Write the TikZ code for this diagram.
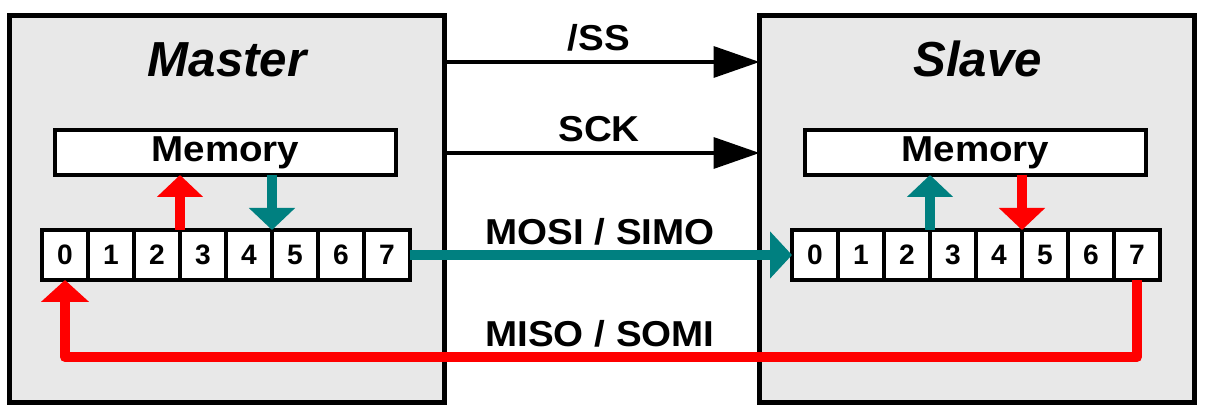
\documentclass[tikz,border=0pt]{standalone}
\usepackage{fontspec}
\setmainfont{Liberation Sans}
\newfontfamily\widefont{Liberation Sans}[FakeStretch=1.07]
\usetikzlibrary{arrows.meta,positioning}
\definecolor{boxgray}{HTML}{E8E8E8}
\definecolor{spiteal}{HTML}{008080}
\definecolor{spired}{HTML}{FF0000}
\tikzset{
    unit/.style={draw, line width=2.85pt, fill=boxgray, minimum width=8.7cm, minimum height=7.74cm, inner sep=0pt, outer sep=0pt},
    memory/.style={draw, line width=2.3pt, fill=white, minimum width=6.82cm, minimum height=0.9cm, inner sep=0pt, outer sep=0pt, font=\widefont\bfseries\fontsize{20.5}{24}\selectfont},
    bitcell/.style={draw, line width=2.3pt, fill=white, minimum width=0.92cm, minimum height=1cm, inner sep=0pt, outer sep=0pt, font=\bfseries\fontsize{16}{19}\selectfont},
    title/.style={anchor=base, font=\bfseries\itshape\fontsize{28}{32}\selectfont},
    signame/.style={anchor=base, font=\widefont\bfseries\fontsize{20.5}{24}\selectfont},
    ctrl/.style={line width=2pt, -{Triangle[length=0.92cm,width=0.62cm]}},
    tealmove/.style={spiteal, line width=5.7pt, -{Triangle[length=0.44cm,width=0.9cm]}},
    redmove/.style={spired, line width=5.7pt, -{Triangle[length=0.44cm,width=0.9cm]}},
    mosi/.style={spiteal, line width=6pt, -{Triangle[length=0.44cm,width=0.92cm]}},
    miso/.style={spired, line width=5.7pt, line join=round, -{Triangle[length=0.44cm,width=0.94cm]}}
}
\begin{document}
\begin{tikzpicture}
    \useasboundingbox (0,0) rectangle (24.1,8.2);
    % Rahmen
    \node[unit] (master) at (4.54,4.02) {};
    \node[unit] (slave) at (19.54,4.02) {};
    \node[title] (mtitle) at (4.54,6.66) {Master};
    \node[title] (stitle) at (19.55,6.66) {Slave};
    % Speicher
    \node[memory] (mmem) at (4.51,5.15) {Memory};
    \node[memory] (smem) at (19.51,5.15) {Memory};
    % Schieberegister
    \foreach \i in {0,...,7} {
        \node[bitcell] (m\i) at ({1.3+0.92*\i},3.1) {\i};
        \node[bitcell] (s\i) at ({16.3+0.92*\i},3.1) {\i};
    }
    % Register <-> Speicher
    \draw[redmove] (m2.north east) -- (m2.north east |- mmem.south);
    \draw[tealmove] (m4.north east |- mmem.south) -- (m4.north east);
    \draw[tealmove] (s2.north east) -- (s2.north east |- smem.south);
    \draw[redmove] (s4.north east |- smem.south) -- (s4.north east);
    % /SS, SCK
    \coordinate (ssline) at (12,6.96);
    \coordinate (sckline) at (12,5.14);
    \draw[ctrl] (master.east |- ssline) -- (slave.west |- ssline);
    \draw[ctrl] (master.east |- sckline) -- (slave.west |- sckline);
    \node[signame] (sslbl) at (11.98,7.18) {/SS};
    \node[signame] (scklbl) at (11.98,5.36) {SCK};
    % MOSI
    \draw[mosi] (m7.east) -- (s0.west);
    \node[signame] (mosilbl) at (12,3.3) {MOSI / SIMO};
    % MISO
    \coordinate (misoline) at (12,1.06);
    \draw[miso] (s7.south) |- (misoline) -| (m0.south);
    \node[signame] (misolbl) at (12,1.26) {MISO / SOMI};
\end{tikzpicture}
\end{document}
